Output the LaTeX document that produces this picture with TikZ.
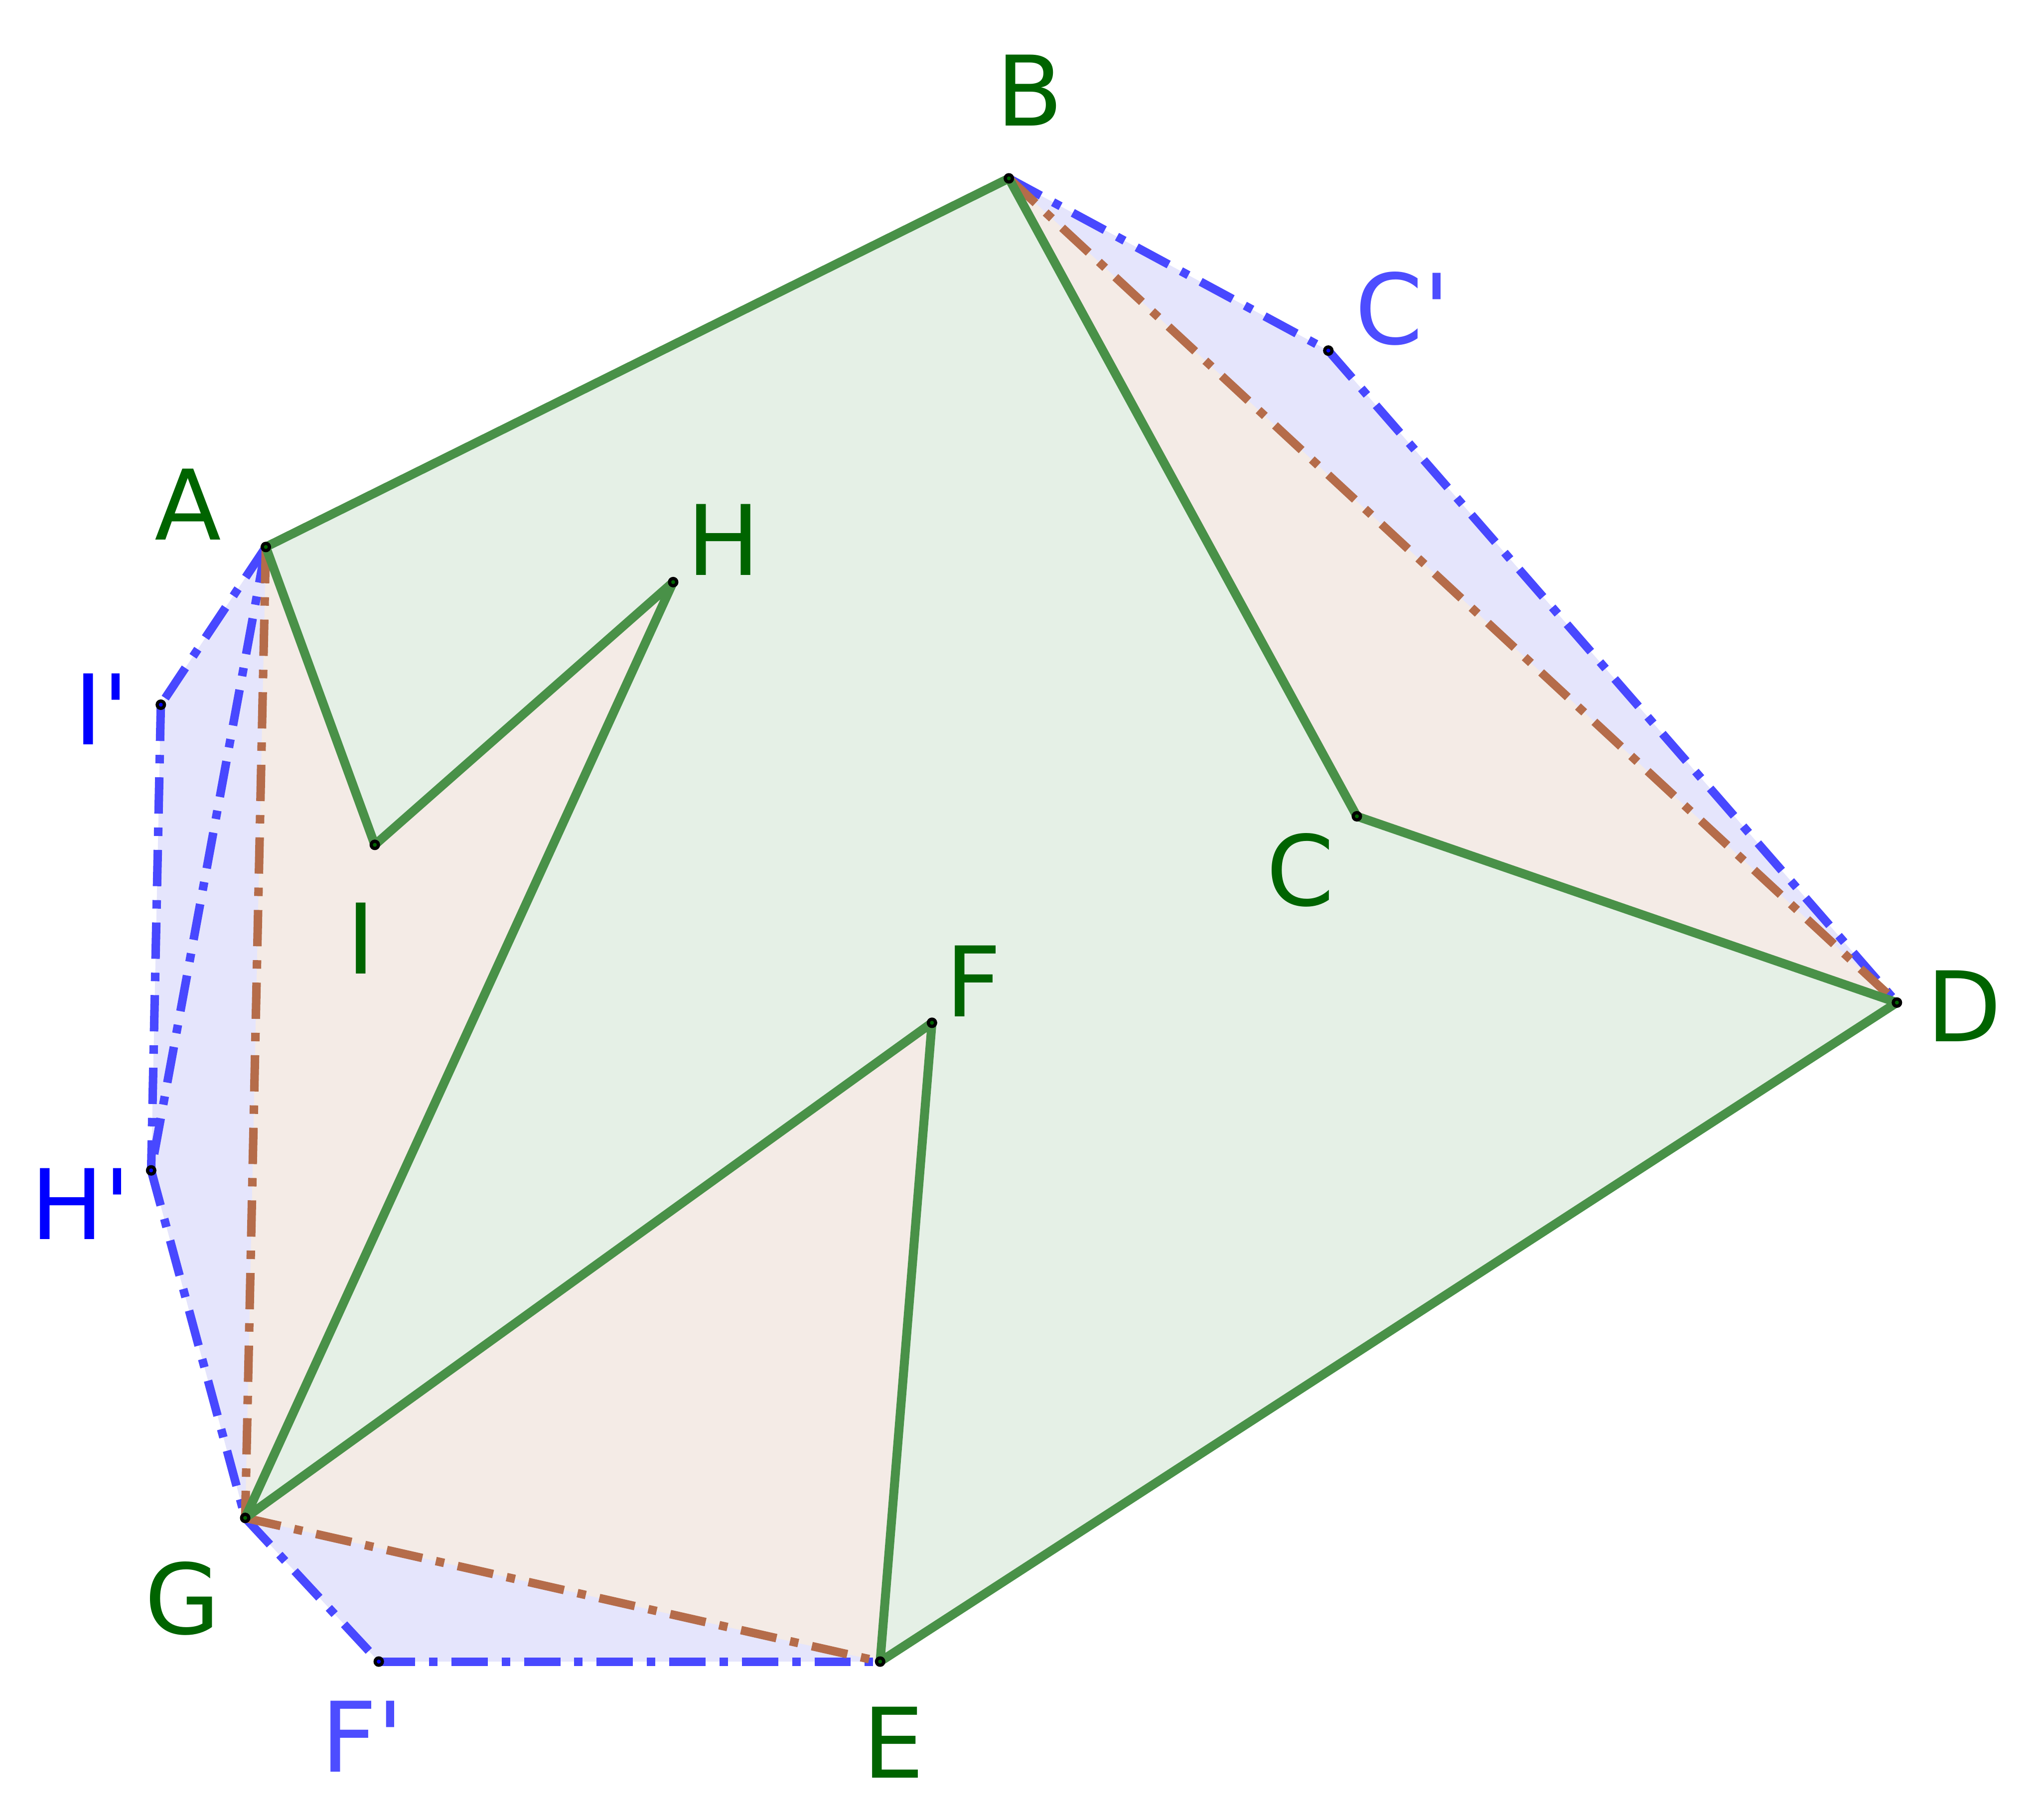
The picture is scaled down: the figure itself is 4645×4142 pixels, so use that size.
\documentclass[tikz,border=0pt]{standalone}
\usepackage{fontspec}
\setmainfont{DejaVu Sans}[Ligatures=TeXOff]
\definecolor{gstroke}{RGB}{73,145,72}
\definecolor{glabel}{RGB}{0,100,0}
\definecolor{bstroke}{RGB}{72,72,255}
\definecolor{blabelA}{RGB}{77,77,255}
\definecolor{blabelB}{RGB}{0,0,255}
\definecolor{brstroke}{RGB}{181,108,74}
\definecolor{bfill}{RGB}{229,229,252}
\definecolor{brfill}{RGB}{244,235,230}
\definecolor{gfill}{RGB}{229,240,230}
\begin{document}
\begin{tikzpicture}[x=0.01cm,y=-0.01cm,
  greenedge/.style={draw=gstroke,line width=5.8pt,line join=round},
  dashdotline/.style={line width=5.5pt,line cap=butt,dash pattern=on 23.5pt off 9pt on 5.5pt off 9pt},
  blueedge/.style={dashdotline,draw=bstroke},
  brownedge/.style={dashdotline,draw=brstroke},
  lbl/.style={inner sep=0pt,font=\fontsize{63}{75}\selectfont},
  glbl/.style={lbl,text=glabel},
  blblA/.style={lbl,text=blabelA},
  blblB/.style={lbl,text=blabelB}]
\useasboundingbox (0,0) rectangle (4645,4142);
% points
\coordinate (A) at (605,1245);
\coordinate (B) at (2296,406);
\coordinate (C) at (3088,1858);
\coordinate (D) at (4317,2282);
\coordinate (E) at (2003,3782);
\coordinate (F) at (2121,2328);
\coordinate (G) at (558,3455);
\coordinate (H) at (1532,1325);
\coordinate (I) at (853,1923);
\coordinate (Cp) at (3023,798);
\coordinate (Fp) at (862,3782);
\coordinate (Hp) at (344,2664);
\coordinate (Ip) at (366,1604);
% fills
\fill[bfill] (A) -- (B) -- (Cp) -- (D) -- (E) -- (Fp) -- (G) -- (Hp) -- (Ip) -- cycle;
\fill[brfill] (A) -- (B) -- (D) -- (E) -- (G) -- cycle;
\fill[gfill] (A) -- (B) -- (C) -- (D) -- (E) -- (F) -- (G) -- (H) -- (I) -- cycle;
% blue dash-dot edges
\draw[blueedge] (A) -- (Ip);
\draw[blueedge] (Ip) -- (Hp);
\draw[blueedge] (A) -- (Hp);
\draw[blueedge] (Hp) -- (G);
\draw[blueedge] (G) -- (Fp);
\draw[blueedge] (Fp) -- (E);
\draw[blueedge] (B) -- (Cp);
\draw[blueedge] (Cp) -- (D);
% brown dash-dot edges
\draw[brownedge] (A) -- (G);
\draw[brownedge] (G) -- (E);
\draw[brownedge] (B) -- (D);
% green polygon
\draw[greenedge] (A) -- (B) -- (C) -- (D) -- (E) -- (F) -- (G) -- (H) -- (I) -- cycle;
% point markers
\foreach \p in {A,B,C,D,E,F,G,H,I} {
  \fill[black] (\p) circle[radius=12];
  \fill[glabel] (\p) circle[radius=4.5];
}
\foreach \p in {Cp,Fp,Hp,Ip} {
  \fill[black] (\p) circle[radius=12];
  \fill[blabelB] (\p) circle[radius=4.5];
}
% labels
\node[glbl] (lA) at (428,1148) {A};
\node[glbl] (lB) at (2344,206) {B};
\node[glbl] (lC) at (2960,1980) {C};
\node[glbl] (lD) at (4470,2290) {D};
\node[glbl] (lE) at (2034,3966) {E};
\node[glbl] (lF) at (2216,2233) {F};
\node[glbl] (lG) at (415,3638) {G};
\node[glbl] (lH) at (1646,1228) {H};
\node[glbl] (lI) at (821,2136) {I};
\node[blblA] (lCp) at (3192,702) {C'};
\node[blblA] (lFp) at (825,3952) {F'};
\node[blblB] (lHp) at (184,2740) {H'};
\node[blblB] (lIp) at (231,1614) {I'};
\end{tikzpicture}
\end{document}
